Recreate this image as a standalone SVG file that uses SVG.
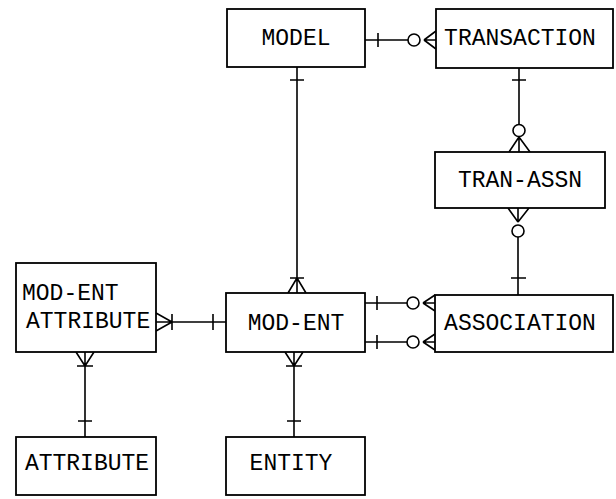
<svg xmlns="http://www.w3.org/2000/svg" width="616" height="499" viewBox="0 0 616 499">
<style>
.box{fill:#fff;stroke:#000;stroke-width:1.8}
.t{font-family:"Liberation Mono","DejaVu Sans Mono",monospace;font-size:23px;fill:#000;text-anchor:middle}
.tl{font-family:"Liberation Mono","DejaVu Sans Mono",monospace;font-size:23px;fill:#000}
.c{fill:none;stroke:#000;stroke-width:1.6}
</style>
<rect width="616" height="499" fill="#fff"/>
<g id="connectors" class="c">
<!-- MODEL - TRANSACTION -->
<path d="M365,40 H408 M378,33 V47 M424,40 L436,31 M424,40 H436 M424,40 L436,49"/>
<circle cx="414" cy="40" r="6"/>
<!-- MODEL - MOD-ENT -->
<path d="M297,67 V293 M290,80 H304 M290,278 H304 M297,278 L288,293 M297,278 L306,293"/>
<!-- TRANSACTION - TRAN-ASSN -->
<path d="M519,68 V124 M512,80 H526 M519,137 L509,152 M519,137 V152 M519,137 L530,152"/>
<circle cx="519" cy="130.5" r="6"/>
<!-- TRAN-ASSN - ASSOCIATION -->
<path d="M518,237 V295 M511,278 H526 M518,222 L508,208 M518,222 V208 M518,222 L529,208"/>
<circle cx="518" cy="231" r="6"/>
<!-- MOD-ENT - ASSOCIATION (two) -->
<path d="M365,303 H407 M377,296 V310 M423,303 L435,295 M423,303 H435 M423,303 L435,311"/>
<circle cx="413" cy="303" r="6"/>
<path d="M365,342 H407 M377,335 V349 M423,342 L435,334 M423,342 H435 M423,342 L435,350"/>
<circle cx="413" cy="342" r="6"/>
<!-- MOD-ENT ATTRIBUTE - MOD-ENT -->
<path d="M156,322 H226 M172,314 V330 M213,314 V330 M172,322 L156,313 M172,322 L156,331"/>
<!-- MOD-ENT ATTRIBUTE - ATTRIBUTE -->
<path d="M85,352 V437 M77,366 H93 M85,366 L76,352 M85,366 L94,352 M78,421 H92"/>
<!-- MOD-ENT - ENTITY -->
<path d="M294,352 V437 M286,366 H302 M294,366 L285,352 M294,366 L303,352 M287,421 H301"/>
</g>
<g id="model"><rect class="box" x="227" y="9" width="138" height="58"/><text class="t" x="296" y="45">MODEL</text></g>
<g id="transaction"><rect class="box" x="436" y="9" width="177" height="59"/><text class="t" x="520" y="45">TRANSACTION</text></g>
<g id="tran-assn"><rect class="box" x="435" y="152" width="170" height="56"/><text class="t" x="520" y="187">TRAN-ASSN</text></g>
<g id="mod-ent-attribute"><rect class="box" x="16" y="263" width="140" height="89"/><text class="tl" x="22" y="300">MOD-ENT</text><text class="tl" x="26" y="328">ATTRIBUTE</text></g>
<g id="mod-ent"><rect class="box" x="226" y="293" width="139" height="59"/><text class="t" x="296" y="330">MOD-ENT</text></g>
<g id="association"><rect class="box" x="435" y="295" width="178" height="57"/><text class="t" x="520" y="330">ASSOCIATION</text></g>
<g id="attribute"><rect class="box" x="16" y="437" width="140" height="58"/><text class="t" x="87" y="470">ATTRIBUTE</text></g>
<g id="entity"><rect class="box" x="226" y="437" width="139" height="58"/><text class="t" x="291" y="470">ENTITY</text></g>
</svg>
